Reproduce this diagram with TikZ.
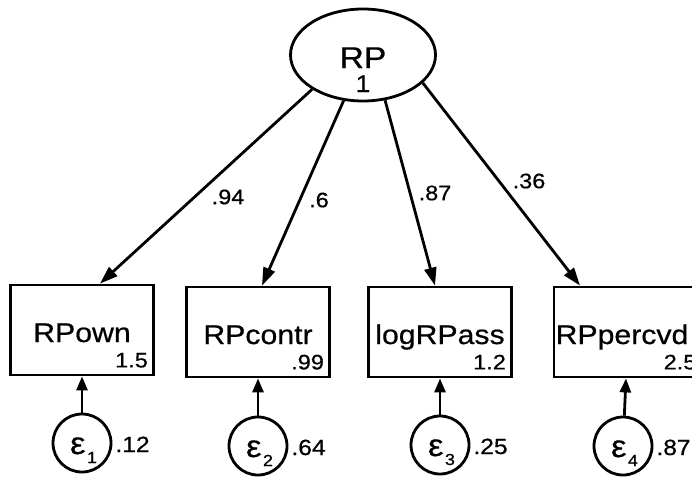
\documentclass[tikz,border=0pt]{standalone}
\usepackage{fontspec}
\setmainfont{Liberation Sans}[FakeStretch=1.12,FakeBold=0.6]
\usetikzlibrary{arrows.meta,calc,shapes.geometric}
\newcommand\fsz[1]{\fontsize{#1}{#1}\selectfont}

\begin{document}
\begin{tikzpicture}[x=1pt,y=-1pt,line width=2.8pt,
  latent/.style={draw,ellipse,minimum width=145pt,minimum height=92pt,inner sep=0pt},
  observed/.style={draw,rectangle,minimum width=143pt,minimum height=90pt,inner sep=0pt},
  errnode/.style={draw,circle,minimum size=58pt,inner sep=0pt},
  txt/.style={inner sep=0pt,outer sep=0pt},
  boxname/.style={txt,anchor=base,font=\fsz{27}},
  boxval/.style={txt,anchor=base east,font=\fsz{21}},
  coef/.style={txt,font=\fsz{21}},
  varlab/.style={txt,anchor=base west,font=\fsz{22}},
  epslab/.style={txt,anchor=base west,font=\fsz{31}},
  loading/.style={-{Triangle[length=18pt,width=12pt]}},
  errarrow/.style={-{Triangle[length=14pt,width=11pt]}}]

\useasboundingbox (0,0) rectangle (692,479);

% latent variable
\node[latent] (RP) at (363,55) {};
\node[txt,anchor=base,font=\fsz{30}] (RPname) at ([yshift=-13pt]RP.center) {RP};
\node[txt,anchor=base,font=\fsz{24}] (RPvar) at ([yshift=-37pt]RP.center) {1};

% observed variables
\node[observed] (own)   at (82,330)  {};
\node[observed] (contr) at (258,332) {};
\node[observed] (pass)  at (440,332) {};
\node[observed,minimum width=148pt] (perc) at (628,332) {};

\node[boxname] (ownT)   at ([yshift=-12pt]own.center)   {RPown};
\node[boxname] (contrT) at ([yshift=-12pt]contr.center) {RPcontr};
\node[boxname] (passT)  at ([yshift=-12pt]pass.center)  {logRPass};
\node[boxname] (percT)  at ([xshift=-6pt,yshift=-12pt]perc.center)  {RPpercvd};

\node[boxval] (ownV)   at ([xshift=-7pt,yshift=9pt]own.south east)   {1.5};
\node[boxval] (contrV) at ([xshift=-7pt,yshift=9pt]contr.south east) {.99};
\node[boxval] (passV)  at ([xshift=-7pt,yshift=9pt]pass.south east)  {1.2};
\node[boxval] (percV)  at ([xshift=-7pt,yshift=9pt]perc.south east)  {2.5};

% error terms
\node[errnode] (e1) at (82,443)  {};
\node[errnode] (e2) at (258,446) {};
\node[errnode] (e3) at (440,445) {};
\node[errnode] (e4) at (623,446) {};

\foreach \e/\i in {e1/1,e2/2,e3/3,e4/4}{
  \node[epslab] (\e T) at ([xshift=-12pt,yshift=-11pt]\e.center)
    {ε\raisebox{-9pt}{\fsz{16}\kern1.5pt\i}};
}

\node[varlab] (e1V) at ([xshift=3pt,yshift=-9pt]e1.east) {.12};
\node[varlab] (e2V) at ([xshift=3pt,yshift=-9pt]e2.east) {.64};
\node[varlab] (e3V) at ([xshift=3pt,yshift=-9pt]e3.east) {.25};
\node[varlab] (e4V) at ([xshift=3pt,yshift=-9pt]e4.east) {.87};

% loadings
\draw[loading] (RP.-146) -- ([xshift=18pt]own.north);
\draw[loading] (RP.-113) -- ([xshift=4pt]contr.north);
\draw[loading] (RP.-64)  -- ([xshift=-5pt]pass.north);
\draw[loading] (RP.-25)  -- ([xshift=-48pt]perc.north);

\node[coef] (c1) at (228,197) {.94};
\node[coef] (c2) at (319,200) {.6};
\node[coef] (c3) at (435,193) {.87};
\node[coef] (c4) at (529,181) {.36};

% error paths
\foreach \e/\b in {e1/own,e2/contr,e3/pass,e4/perc}{
  \draw[errarrow] (\e) -- (\b);
}
\end{tikzpicture}
\end{document}
